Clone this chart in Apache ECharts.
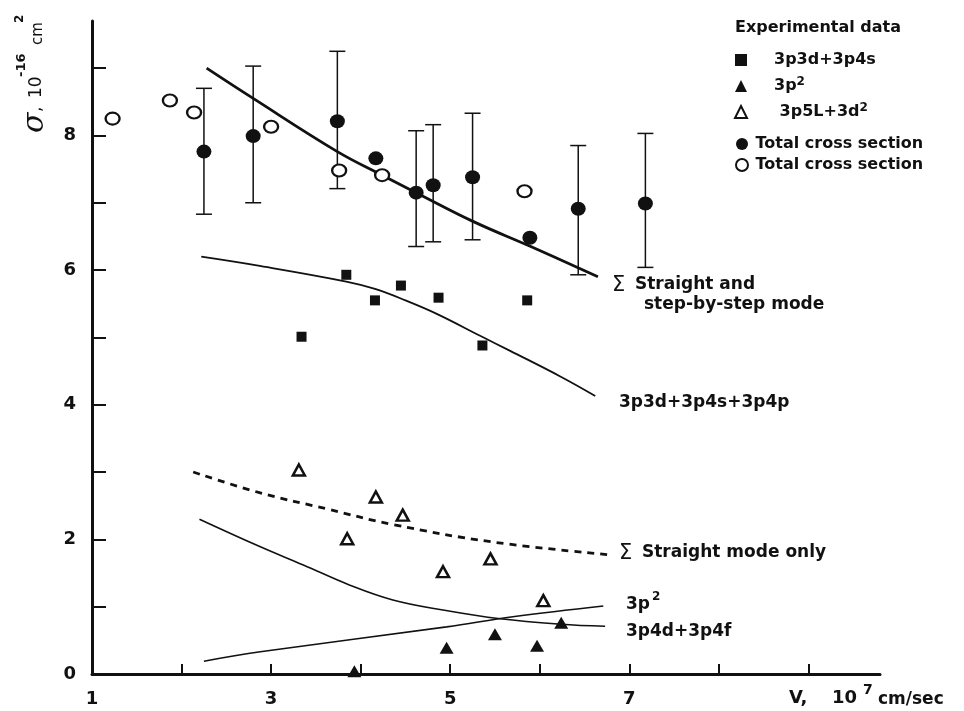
<!DOCTYPE html>
<html>
<head>
<meta charset="utf-8">
<script src="https://cdn.jsdelivr.net/npm/echarts@6/dist/echarts.min.js"></script>
<style>
  html, body { margin: 0; background: #fff; }
  #chart { width: 964px; height: 711px; }
</style>
</head>
<body>
<div id="chart"></div>
<script>
// velocity V (10^7 cm/sec) / cross section sigma (10^-16 cm^2)
const totalFilled = [
  [2.25, 7.76], [2.80, 7.99], [3.74, 8.21], [4.17, 7.66], [4.62, 7.15],
  [4.81, 7.26], [5.25, 7.38], [5.89, 6.48], [6.43, 6.91], [7.18, 6.99],
];
// error bars: [v, low, high]
const errorBars = [
  [2.25, 6.83, 8.70], [2.80, 7.00, 9.03], [3.74, 7.21, 9.25], [4.62, 6.35, 8.07],
  [4.81, 6.42, 8.16], [5.25, 6.45, 8.33], [6.43, 5.93, 7.85], [7.18, 6.04, 8.03],
];
const totalOpen = [
  [1.23, 8.25], [1.87, 8.52], [2.14, 8.34], [3.00, 8.13],
  [3.76, 7.48], [4.24, 7.41], [5.83, 7.17],
];
const p3d4s = [
  [3.34, 5.01], [3.84, 5.93], [4.16, 5.55], [4.45, 5.77],
  [4.87, 5.59], [5.36, 4.88], [5.86, 5.55],
];
const p2 = [[3.93, 0.04], [4.96, 0.39], [5.50, 0.59], [5.97, 0.42], [6.24, 0.76]];
const p5L3d2 = [
  [3.31, 3.03], [4.17, 2.63], [4.47, 2.36], [3.85, 2.01],
  [5.45, 1.71], [4.92, 1.52], [6.04, 1.09],
];

// theory curves
const curveTotal = [
  [2.28, 9.0], [2.80, 8.55], [3.74, 7.76], [4.24, 7.41], [4.62, 7.15],
  [5.26, 6.72], [5.90, 6.35], [6.65, 5.90],
];
const curve3p3d = [
  [2.22, 6.20], [2.84, 6.07], [3.84, 5.83], [4.16, 5.72], [4.50, 5.55],
  [4.85, 5.35], [5.34, 5.02], [5.67, 4.80], [6.23, 4.42], [6.62, 4.13],
];
const curveStraight = [
  [2.13, 3.0], [2.88, 2.69], [3.63, 2.45], [4.36, 2.22], [5.48, 1.96], [6.79, 1.77],
];
const curve3p4d = [
  [2.20, 2.30], [2.88, 1.89], [3.36, 1.62], [3.88, 1.32], [4.36, 1.10],
  [4.92, 0.95], [5.56, 0.82], [6.23, 0.74], [6.73, 0.71],
];
const curve3p2 = [[2.25, 0.19], [2.88, 0.33], [4.96, 0.70], [5.70, 0.85], [6.71, 1.01]];

const xLabels = [1, 3, 5, 7];
const yLabels = [0, 2, 4, 6, 8];

const FONT = "DejaVu Sans";
const INK = "#111";

const chart = echarts.init(document.getElementById("chart"));

const legendText = {
  fontFamily: FONT,
  fontWeight: "bold",
  fontSize: 16,
  color: INK,
  rich: {
    sup: { fontFamily: FONT, fontWeight: "bold", fontSize: 12, color: INK, verticalAlign: "top", padding: [0, 0, 8, 0] },
  },
};

function legendName(name) {
  if (name === "3p2") return "3p{sup|2}";
  if (name === "3p5L+3d2") return " 3p5L+3d{sup|2}";
  if (name === "Total cross section (open)") return "Total cross section";
  return name;
}

function errorBarItem(params, api) {
  const v = api.value(0);
  const lo = api.coord([v, api.value(1)]);
  const hi = api.coord([v, api.value(2)]);
  const w = 8;
  const style = { stroke: INK, lineWidth: 1.5 };
  return {
    type: "group",
    children: [
      { type: "line", shape: { x1: lo[0], y1: lo[1], x2: hi[0], y2: hi[1] }, style },
      { type: "line", shape: { x1: lo[0] - w, y1: lo[1], x2: lo[0] + w, y2: lo[1] }, style },
      { type: "line", shape: { x1: hi[0] - w, y1: hi[1], x2: hi[0] + w, y2: hi[1] }, style },
    ],
  };
}

function curve(data, width, dashed) {
  return {
    type: "line",
    data: data,
    smooth: 0.4,
    symbol: "none",
    silent: true,
    lineStyle: { color: INK, width: width, type: dashed ? [7, 6] : "solid" },
    z: 2,
  };
}

// plain text placed on the page (labels, axis names)
function label(x, y, text, font, rotation) {
  return {
    type: "text",
    x: x,
    y: y,
    rotation: rotation || 0,
    style: { text: text, font: font, fill: INK, verticalAlign: "middle" },
  };
}

const UP = Math.PI / 2;

chart.setOption({
  backgroundColor: "#fff",
  animation: false,
  grid: { left: 92, right: 84, top: 21, bottom: 37, containLabel: false },
  xAxis: {
    type: "value",
    min: 1,
    max: 9.8,
    interval: 1,
    axisLine: { lineStyle: { color: INK, width: 3 } },
    axisTick: { inside: true, length: 10, lineStyle: { color: INK, width: 2 } },
    splitLine: { show: false },
    axisLabel: {
      margin: 16,
      showMaxLabel: false,
      fontFamily: FONT,
      fontWeight: "bold",
      fontSize: 18,
      color: INK,
      formatter: (v) => (xLabels.includes(v) ? String(v) : ""),
    },
  },
  yAxis: {
    type: "value",
    min: 0,
    max: 9.7,
    interval: 1,
    axisLine: { lineStyle: { color: INK, width: 3 } },
    axisTick: { inside: true, length: 14, lineStyle: { color: INK, width: 2 } },
    splitLine: { show: false },
    axisLabel: {
      margin: 16,
      showMaxLabel: false,
      fontFamily: FONT,
      fontWeight: "bold",
      fontSize: 18,
      color: INK,
      formatter: (v) => (yLabels.includes(v) ? String(v) : ""),
    },
  },
  legend: [
    {
      orient: "vertical",
      left: 729,
      top: 47,
      itemGap: 8,
      itemWidth: 12,
      itemHeight: 12,
      selectedMode: false,
      data: ["3p3d+3p4s", "3p2", "3p5L+3d2"],
      formatter: legendName,
      textStyle: Object.assign({ padding: [0, 0, 0, 22] }, legendText),
    },
    {
      orient: "vertical",
      left: 730,
      top: 131,
      itemGap: 5,
      itemWidth: 13,
      itemHeight: 12,
      selectedMode: false,
      data: ["Total cross section", "Total cross section (open)"],
      formatter: legendName,
      textStyle: Object.assign({ padding: [0, 0, 0, 2] }, legendText),
    },
  ],
  graphic: [
    label(735, 28, "Experimental data", "bold 16px DejaVu Sans"),
    // y axis name, read bottom to top
    label(35, 133, "σ", "italic 30px DejaVu Serif", UP),
    label(37, 112, ",", "17px DejaVu Sans", UP),
    label(37, 98, "10", "17px DejaVu Sans", UP),
    label(22, 77, "-16", "bold 13px DejaVu Sans", UP),
    label(38, 45, "cm", "15px DejaVu Sans", UP),
    label(20, 23, "2", "bold 12px DejaVu Sans", UP),
    // x axis name
    label(789, 698, "V,", "bold 18px DejaVu Sans"),
    label(832, 698, "10", "bold 18px DejaVu Sans"),
    label(863, 690, "7", "bold 14px DejaVu Sans"),
    label(878, 700, "cm/sec", "bold 17px DejaVu Sans"),
    // curve labels
    label(612, 286, "Σ", "21px DejaVu Sans"),
    label(635, 285, "Straight and", "bold 17px DejaVu Sans"),
    label(644, 305, "step-by-step mode", "bold 17px DejaVu Sans"),
    label(619, 403, "3p3d+3p4s+3p4p", "bold 17px DejaVu Sans"),
    label(619, 554, "Σ", "21px DejaVu Sans"),
    label(642, 553, "Straight mode only", "bold 17px DejaVu Sans"),
    label(626, 605, "3p", "bold 17px DejaVu Sans"),
    label(652, 597, "2", "bold 12px DejaVu Sans"),
    label(626, 632, "3p4d+3p4f", "bold 17px DejaVu Sans"),
  ],
  series: [
    curve(curveTotal, 2.8, false),
    curve(curve3p3d, 1.8, false),
    curve(curveStraight, 2.8, true),
    curve(curve3p4d, 1.6, false),
    curve(curve3p2, 1.6, false),
    {
      type: "custom",
      name: "error",
      data: errorBars,
      renderItem: errorBarItem,
      silent: true,
      z: 3,
    },
    {
      name: "3p3d+3p4s",
      type: "scatter",
      data: p3d4s,
      symbol: "rect",
      symbolSize: 10,
      itemStyle: { color: INK, opacity: 1 },
      z: 4,
    },
    {
      name: "3p2",
      type: "scatter",
      data: p2,
      symbol: "triangle",
      symbolSize: [14, 12],
      itemStyle: { color: INK, opacity: 1 },
      z: 4,
    },
    {
      name: "3p5L+3d2",
      type: "scatter",
      data: p5L3d2,
      symbol: "triangle",
      symbolSize: [12, 11],
      itemStyle: { color: "#fff", borderColor: INK, borderWidth: 2.5, opacity: 1 },
      z: 4,
    },
    {
      name: "Total cross section",
      type: "scatter",
      data: totalFilled,
      symbol: "circle",
      symbolSize: [15, 14],
      itemStyle: { color: INK, opacity: 1 },
      z: 5,
    },
    {
      name: "Total cross section (open)",
      type: "scatter",
      data: totalOpen,
      symbol: "circle",
      symbolSize: [14, 12],
      itemStyle: { color: "#fff", borderColor: INK, borderWidth: 2.2, opacity: 1 },
      z: 5,
    },
  ],
});
</script>
</body>
</html>
